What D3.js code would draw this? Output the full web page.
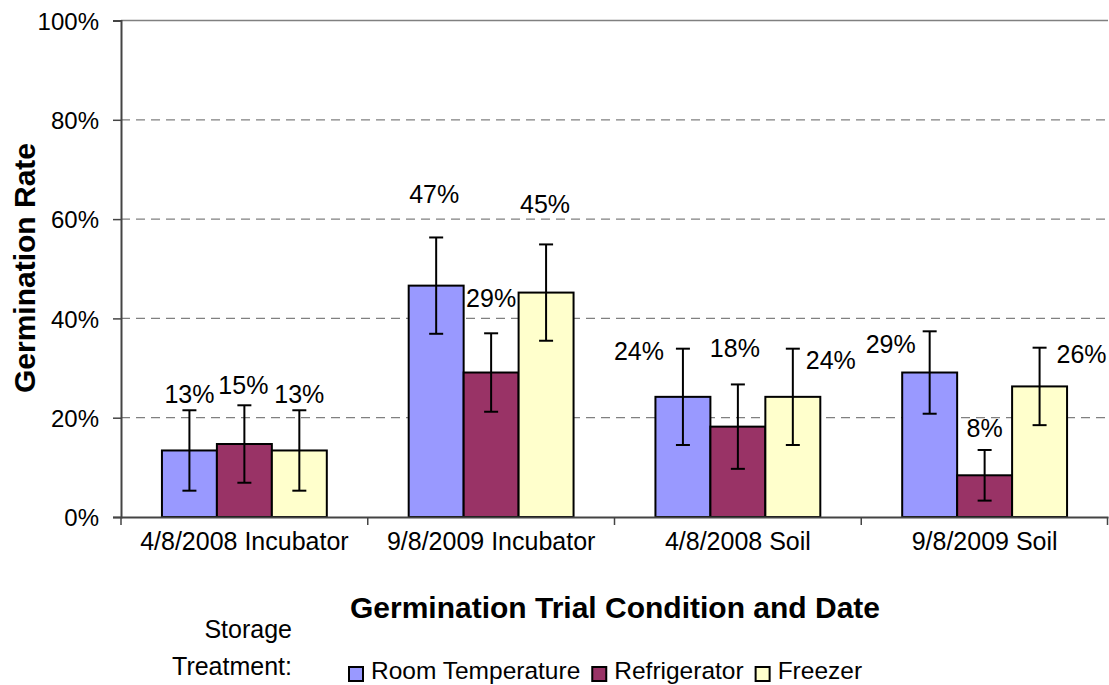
<!DOCTYPE html>
<html>
<head>
<meta charset="utf-8">
<script src="https://cdn.jsdelivr.net/npm/d3@7"></script>
<style>
  body { margin: 0; background: #fff; }
  svg { display: block; font-family: "Liberation Sans", Arial, sans-serif; }
</style>
</head>
<body>
<svg id="chart"></svg>
<script>
// categories and series
const categories = ["4/8/2008 Incubator", "9/8/2009 Incubator", "4/8/2008 Soil", "9/8/2009 Soil"]
const seriesNames = ["Room Temperature", "Refrigerator", "Freezer"]
const seriesColors = ["#9999ff", "#993366", "#ffffcc"]

// germination rate per series (same order as categories)
const roomTemp = [0.134, 0.466, 0.242, 0.291]
const refrigerator = [0.147, 0.291, 0.182, 0.084]
const freezer = [0.134, 0.452, 0.242, 0.263]

// error bar half-widths
const roomTempErr = [0.081, 0.097, 0.097, 0.083]
const refrigeratorErr = [0.078, 0.079, 0.085, 0.051]
const freezerErr = [0.081, 0.097, 0.097, 0.078]

const yTicks = [0, 0.2, 0.4, 0.6, 0.8, 1]

// hand-placed label nudges [dx, dy] from the error bar top (px)
const labelNudge = [
  [[0, -7], [-2, -34], [-44, 11], [-39, 22]],
  [[-1, -11], [0, -26], [-3, -27], [0, -13]],
  [[0, -7], [-1, -31], [38, 20], [42, 15]]
]

const values = [roomTemp, refrigerator, freezer]
const errors = [roomTempErr, refrigeratorErr, freezerErr]

const width = 1109
const height = 685
const margin = {top: 20.5, right: 1, bottom: 168, left: 121}

const svg = d3.select("#chart")
  .attr("width", width)
  .attr("height", height)

const x0 = d3.scaleBand()
  .domain(categories)
  .range([margin.left, width - margin.right])

const x1 = d3.scaleBand()
  .domain(seriesNames)
  .range([0, x0.bandwidth()])
  .paddingOuter(0.745)

const y = d3.scaleLinear()
  .domain([0, 1])
  .range([height - margin.bottom, margin.top])

// gridlines
svg.append("g")
  .selectAll("line")
  .data(yTicks.filter(d => d > 0))
  .join("line")
  .attr("x1", margin.left)
  .attr("x2", width - margin.right)
  .attr("y1", d => y(d))
  .attr("y2", d => y(d))
  .attr("stroke", "#808080")
  .attr("stroke-width", 1.3)
  .attr("stroke-dasharray", d => d === 1 ? null : "9,6")

// y axis
const yAxis = svg.append("g")
  .attr("transform", `translate(${margin.left},0)`)
  .call(d3.axisLeft(y).tickValues(yTicks).tickFormat(d3.format(".0%")).tickSize(8).tickPadding(14))
yAxis.select(".domain").attr("stroke", "#444").attr("stroke-width", 2)
yAxis.selectAll(".tick line").attr("stroke", "#444").attr("stroke-width", 1.5)
yAxis.selectAll(".tick text")
  .attr("font-size", 24)
  .attr("fill", "#000")
  .attr("dy", "0.36em")
  .style("font-family", "'Liberation Sans', Arial, sans-serif")

// bars
const groups = svg.append("g")
  .selectAll("g")
  .data(seriesNames)
  .join("g")
  .attr("fill", (d, i) => seriesColors[i])

groups.selectAll("rect")
  .data((s, si) => categories.map((c, ci) => ({c, s, si, ci, v: values[si][ci], e: errors[si][ci]})))
  .join("rect")
  .attr("x", d => x0(d.c) + x1(d.s))
  .attr("y", d => y(d.v))
  .attr("width", x1.bandwidth())
  .attr("height", d => y(0) - y(d.v))
  .attr("stroke", "#000")
  .attr("stroke-width", 2)

// x axis
const xAxis = svg.append("g")
  .attr("transform", `translate(0,${y(0)})`)
  .call(d3.axisBottom(x0).tickSize(0).tickPadding(33))
xAxis.select(".domain").attr("stroke", "#444").attr("stroke-width", 2)
xAxis.selectAll(".tick text")
  .attr("font-size", 25)
  .attr("fill", "#000")
  .attr("dy", 0)
  .style("font-family", "'Liberation Sans', Arial, sans-serif")

// category separator ticks
svg.append("g")
  .selectAll("line")
  .data(categories.concat(["end"]))
  .join("line")
  .attr("x1", (d, i) => i < categories.length ? x0(d) : x0.range()[1] - 0.5)
  .attr("x2", (d, i) => i < categories.length ? x0(d) : x0.range()[1] - 0.5)
  .attr("y1", y(0))
  .attr("y2", y(0) + 8)
  .attr("stroke", "#444")
  .attr("stroke-width", 1.5)

// error bars
const all = seriesNames.flatMap((s, si) => categories.map((c, ci) => ({c, s, si, ci, v: values[si][ci], e: errors[si][ci]})))
const cx = d => x0(d.c) + x1(d.s) + x1.bandwidth() / 2

const err = svg.append("g")
  .attr("stroke", "#000")
  .attr("stroke-width", 2)
err.selectAll(".stem")
  .data(all)
  .join("line")
  .attr("x1", cx).attr("x2", cx)
  .attr("y1", d => y(d.v + d.e))
  .attr("y2", d => y(d.v - d.e))
err.selectAll(".cap-top")
  .data(all)
  .join("line")
  .attr("x1", d => cx(d) - 7).attr("x2", d => cx(d) + 7)
  .attr("y1", d => y(d.v + d.e))
  .attr("y2", d => y(d.v + d.e))
err.selectAll(".cap-bot")
  .data(all)
  .join("line")
  .attr("x1", d => cx(d) - 7).attr("x2", d => cx(d) + 7)
  .attr("y1", d => y(d.v - d.e))
  .attr("y2", d => y(d.v - d.e))

// data labels
svg.append("g")
  .selectAll("text")
  .data(all)
  .join("text")
  .attr("x", d => cx(d) + labelNudge[d.si][d.ci][0])
  .attr("y", d => y(d.v + d.e) + labelNudge[d.si][d.ci][1])
  .attr("text-anchor", "middle")
  .attr("font-size", 25)
  .text(d => d3.format(".0%")(d.v))

// axis titles
svg.append("text")
  .attr("transform", `translate(35,268) rotate(-90)`)
  .attr("text-anchor", "middle")
  .attr("font-size", 30)
  .attr("font-weight", "bold")
  .text("Germination Rate")

svg.append("text")
  .attr("x", 615)
  .attr("y", 618)
  .attr("text-anchor", "middle")
  .attr("font-size", 30)
  .attr("font-weight", "bold")
  .text("Germination Trial Condition and Date")

// legend
svg.append("text")
  .attr("x", 292).attr("y", 638)
  .attr("text-anchor", "end")
  .attr("font-size", 25)
  .text("Storage")
svg.append("text")
  .attr("x", 292).attr("y", 675)
  .attr("text-anchor", "end")
  .attr("font-size", 25)
  .text("Treatment:")

const legend = svg.append("g")
let lx = 349
seriesNames.forEach((s, i) => {
  legend.append("rect")
    .attr("x", lx).attr("y", 667)
    .attr("width", 14).attr("height", 14)
    .attr("fill", seriesColors[i])
    .attr("stroke", "#000")
    .attr("stroke-width", 2)
  const t = legend.append("text")
    .attr("x", lx + 22).attr("y", 679)
    .attr("font-size", 24.5)
    .text(s)
  lx += 22 + t.node().getComputedTextLength() + 12
})
</script>
</body>
</html>
